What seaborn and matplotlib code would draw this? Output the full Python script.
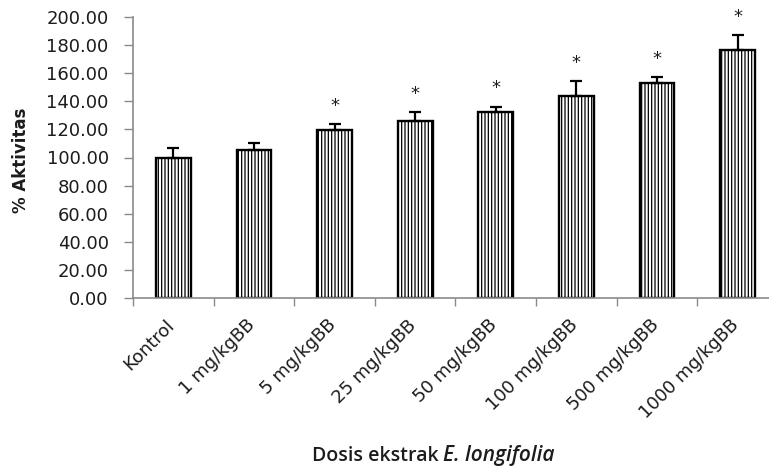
import numpy as np
import matplotlib
matplotlib.use("Agg")
import matplotlib.pyplot as plt
import matplotlib.transforms as mtransforms
import seaborn as sns

# ── Data ──
doses = ["Kontrol", "1 mg/kgBB", "5 mg/kgBB", "25 mg/kgBB", "50 mg/kgBB",
         "100 mg/kgBB", "500 mg/kgBB", "1000 mg/kgBB"]
activity = [100.0, 105.0, 119.5, 125.8, 132.2, 144.0, 152.8, 176.3]
sem = [6.5, 5.2, 4.0, 6.4, 4.0, 10.4, 4.3, 11.0]
signif = ["", "", "*", "*", "*", "*", "*", "*"]
yticks = [0, 20, 40, 60, 80, 100, 120, 140, 160, 180, 200]

# ── Style ──
sns.set_theme(style="white")
plt.rcParams["font.family"] = ["DejaVu Sans"]
plt.rcParams["hatch.linewidth"] = 0.9
plt.rcParams["hatch.color"] = "black"
TEXT = "#1c1c1c"
AXIS = "#8a8a8a"

W, H = 769, 468
fig = plt.figure(figsize=(W / 100, H / 100), dpi=100)
ax = fig.add_axes([133 / W, (H - 298) / H, 645 / W, 281 / H])

# ── Bars ──
sns.barplot(x=doses, y=activity, ax=ax, color="white", width=0.43,
            edgecolor="black", linewidth=1.7, hatch="|||||", errorbar=None)
for p in ax.patches:
    p.set_facecolor("white")
    p.set_edgecolor("black")

xs = np.arange(len(doses))
ax.errorbar(xs, activity, yerr=[np.zeros(len(sem)), sem], fmt="none",
            ecolor="black", elinewidth=1.6, capsize=4.4, capthick=1.6, zorder=3)

for x, y, e, s in zip(xs, activity, sem, signif):
    if s:
        ax.text(x, y + e + 13, s, ha="center", va="center", fontsize=13,
                color=TEXT)

# ── Axes ──
ax.set_xlim(-0.5, len(doses) - 0.5)
ax.set_ylim(0, 200)
ax.set_yticks(yticks)
ax.set_yticklabels([f"{v:.2f}" for v in yticks], fontsize=13, color=TEXT)
ax.set_xticks(xs)
ax.set_xticklabels(doses, rotation=45, ha="right", va="top", fontsize=13,
                   color=TEXT)
ax.set_xticks(np.arange(len(doses) + 1) - 0.5, minor=True)
ax.tick_params(axis="x", which="major", length=0, pad=13)
ax.tick_params(axis="x", which="minor", length=5.5, width=1, color=AXIS,
               direction="out", bottom=True)
ax.tick_params(axis="y", which="major", length=6.5, width=1, color=AXIS,
               direction="out", left=True, pad=11)
offset = mtransforms.ScaledTranslation(5 / 100, 0, fig.dpi_scale_trans)
for lab in ax.get_xticklabels():
    lab.set_transform(lab.get_transform() + offset)

for side in ["top", "right"]:
    ax.spines[side].set_visible(False)
for side in ["left", "bottom"]:
    ax.spines[side].set_color(AXIS)
    ax.spines[side].set_linewidth(1.2)
ax.set_xlabel("")
ax.set_ylabel("")

# ── Labels ──
fig.text(21 / W, (H - 160) / H, "% Aktivitas", rotation=90, ha="center",
         va="center", fontsize=12, fontweight="bold", color=TEXT)
fig.text(439 / W, (H - 456) / H, "Dosis ekstrak", ha="right", va="center",
         fontsize=14, fontweight="semibold", family=["Open Sans", "DejaVu Sans"],
         color=TEXT)
fig.text(443 / W, (H - 456) / H, "E. longifolia", ha="left", va="center",
         fontsize=15, fontweight="semibold", fontstyle="italic",
         family=["Open Sans", "DejaVu Sans"], color=TEXT)

fig.savefig("out.png", dpi=100)
